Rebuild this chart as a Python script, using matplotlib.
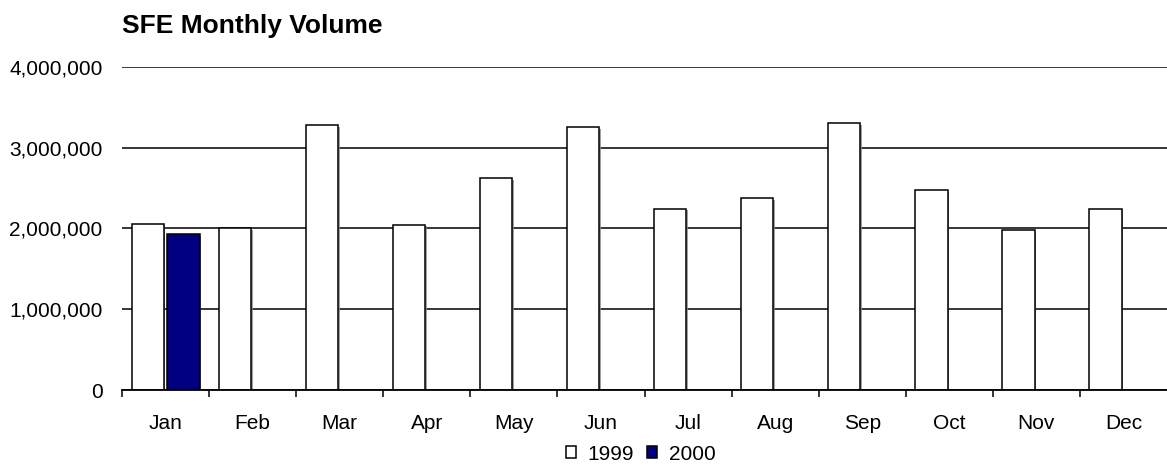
import matplotlib
matplotlib.use("Agg")
import matplotlib.pyplot as plt
import numpy as np
from matplotlib.patches import Patch
from matplotlib.ticker import FuncFormatter
import matplotlib.patheffects as pe

months = ["Jan", "Feb", "Mar", "Apr", "May", "Jun", "Jul", "Aug", "Sep", "Oct", "Nov", "Dec"]
vol_1999 = [2058000, 2000000, 3280000, 2045000, 2620000, 3250000,
            2245000, 2370000, 3305000, 2470000, 1980000, 2245000]
vol_2000 = [1930000, np.nan, np.nan, np.nan, np.nan, np.nan,
            np.nan, np.nan, np.nan, np.nan, np.nan, np.nan]
y_ticks = [0, 1000000, 2000000, 3000000, 4000000]
series_names = ["1999", "2000"]

plt.rcParams['font.family'] = ['Liberation Sans', 'DejaVu Sans']

W, H = 1167, 474
fig = plt.figure(figsize=(W / 100, H / 100), dpi=100)
ax = fig.add_axes([122 / W, 1 - 390 / H, 1 - 122 / W, (390 - 66.7) / H])

x = np.arange(len(months))
shadow = [pe.SimplePatchShadow(offset=(1.2, -1.2), shadow_rgbFace='#888888', alpha=0.8), pe.Normal()]
ax.bar(x - 0.205, vol_1999, width=0.37, color='white', edgecolor='black',
       linewidth=1.1, zorder=3, path_effects=shadow)
ax.bar(x + 0.205, vol_2000, width=0.37, color='#000080', edgecolor='black',
       linewidth=1.1, zorder=3, path_effects=shadow)

ax.set_xlim(-0.5, 11.5)
ax.set_ylim(0, 4000000)
ax.set_yticks(y_ticks)
ax.yaxis.set_major_formatter(FuncFormatter(lambda v, p: f"{int(v):,}"))
ax.tick_params(axis='y', length=0, pad=14, labelsize=15)
ax.grid(axis='y', color='black', linewidth=1.1, zorder=1)
ax.set_axisbelow(True)

ax.set_xticks(np.arange(-0.5, 11.0, 1.0))
ax.set_xticklabels([])
ax.set_xticks(x, minor=True)
ax.set_xticklabels(months, minor=True)
ax.tick_params(axis='x', which='major', length=5, width=1.1, direction='out', color='black')
ax.tick_params(axis='x', which='minor', length=0, pad=17.5, labelsize=15)

for s in ['left', 'right', 'top']:
    ax.spines[s].set_visible(False)
ax.spines['bottom'].set_linewidth(1.3)
ax.spines['bottom'].set_zorder(4)

fig.text(122 / W, 1 - 33.3 / H, "SFE Monthly Volume", fontsize=19, fontweight='bold',
         ha='left', va='baseline')

handles = [Patch(facecolor='white', edgecolor='black', linewidth=1.1, label=series_names[0]),
           Patch(facecolor='#000080', edgecolor='black', linewidth=1.1, label=series_names[1])]
fig.legend(handles=handles, loc='center', bbox_to_anchor=(640.5 / W, 1 - 454 / H), ncol=2,
           frameon=False, fontsize=15, handlelength=0.5, handleheight=0.5,
           handletextpad=0.55, columnspacing=0.6, borderpad=0)

fig.savefig("out.png", dpi=100)
